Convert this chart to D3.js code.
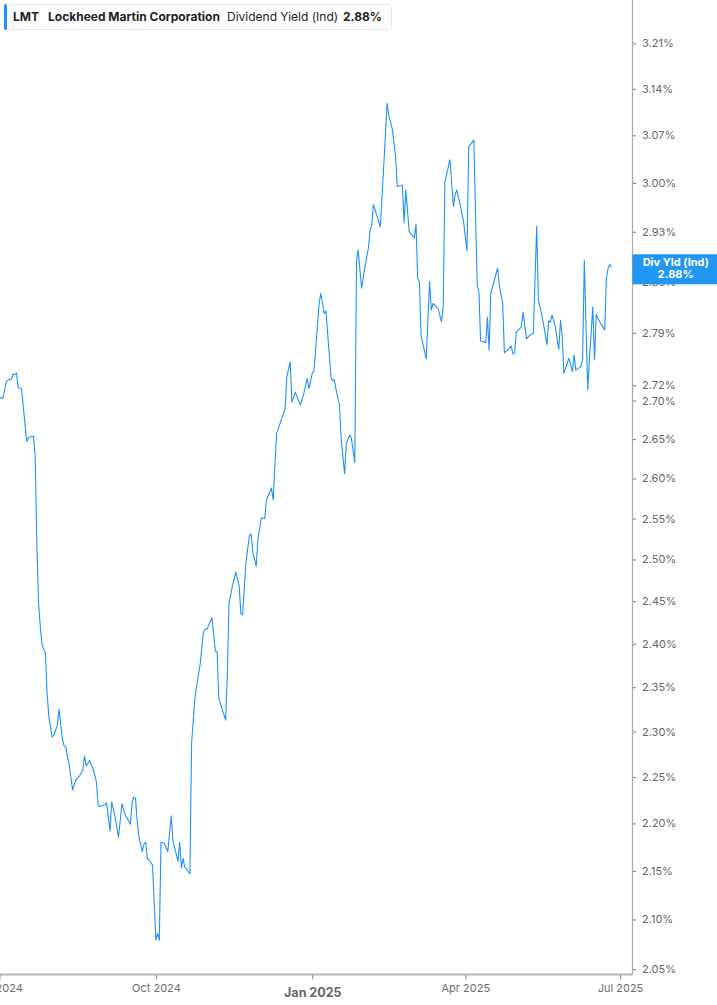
<!DOCTYPE html>
<html>
<head>
<meta charset="utf-8">
<script src="https://cdn.jsdelivr.net/npm/d3@7"></script>
<style>
  html, body { margin: 0; padding: 0; background: #fff; }
  svg { display: block; font-family: Inter, "Noto Sans", sans-serif; }
</style>
</head>
<body>
<svg id="chart" width="717" height="1005"></svg>
<script>
const ticker = "LMT";
const company = "Lockheed Martin Corporation";
const metric = "Dividend Yield (Ind)";
const metricShort = "Div Yld (Ind)";
const lastValueLabel = "2.88%";

const dates = [
"2024-07-01","2024-07-02","2024-07-03","2024-07-05","2024-07-07","2024-07-08","2024-07-09","2024-07-10","2024-07-11","2024-07-12",
"2024-07-14","2024-07-15","2024-07-17","2024-07-18","2024-07-21","2024-07-22","2024-07-23","2024-07-24","2024-07-25","2024-07-26",
"2024-07-28","2024-07-29","2024-07-30","2024-08-01","2024-08-02","2024-08-04","2024-08-05","2024-08-07","2024-08-08","2024-08-09",
"2024-08-10","2024-08-11","2024-08-12","2024-08-13","2024-08-15","2024-08-17","2024-08-19","2024-08-20","2024-08-21","2024-08-23",
"2024-08-25","2024-08-27","2024-08-28","2024-08-29","2024-09-01","2024-09-02","2024-09-04","2024-09-05","2024-09-07","2024-09-09",
"2024-09-11","2024-09-13","2024-09-16","2024-09-17","2024-09-18","2024-09-19","2024-09-20","2024-09-21","2024-09-23","2024-09-24",
"2024-09-25","2024-09-26","2024-09-28","2024-09-29","2024-10-01","2024-10-02","2024-10-03","2024-10-04","2024-10-06","2024-10-08",
"2024-10-10","2024-10-11","2024-10-14","2024-10-15","2024-10-16","2024-10-17","2024-10-18","2024-10-21","2024-10-22","2024-10-24",
"2024-10-27","2024-10-29","2024-10-30","2024-10-31","2024-11-03","2024-11-05","2024-11-06","2024-11-07","2024-11-11","2024-11-12",
"2024-11-13","2024-11-15","2024-11-17","2024-11-19","2024-11-20","2024-11-21","2024-11-23","2024-11-25","2024-11-26","2024-11-27",
"2024-11-29","2024-11-30","2024-12-02","2024-12-04","2024-12-05","2024-12-08","2024-12-09","2024-12-11","2024-12-13","2024-12-16",
"2024-12-17","2024-12-19","2024-12-20","2024-12-22","2024-12-25","2024-12-27","2024-12-29","2024-12-30","2025-01-01","2025-01-02",
"2025-01-05","2025-01-06","2025-01-08","2025-01-09","2025-01-12","2025-01-13","2025-01-14","2025-01-15","2025-01-17","2025-01-18",
"2025-01-20","2025-01-21","2025-01-23","2025-01-24","2025-01-26","2025-01-27","2025-01-28","2025-01-30","2025-02-01","2025-02-03",
"2025-02-04","2025-02-05","2025-02-06","2025-02-08","2025-02-10","2025-02-12","2025-02-14","2025-02-15","2025-02-17","2025-02-19",
"2025-02-20","2025-02-22","2025-02-23","2025-02-24","2025-02-25","2025-02-27","2025-03-02","2025-03-03","2025-03-04","2025-03-05",
"2025-03-06","2025-03-09","2025-03-11","2025-03-12","2025-03-13","2025-03-16","2025-03-18","2025-03-19","2025-03-20","2025-03-23",
"2025-03-25","2025-03-26","2025-03-27","2025-03-29","2025-03-31","2025-04-02","2025-04-03","2025-04-06","2025-04-08","2025-04-09",
"2025-04-10","2025-04-13","2025-04-14","2025-04-15","2025-04-16","2025-04-20","2025-04-21","2025-04-23","2025-04-24","2025-04-28",
"2025-04-29","2025-04-30","2025-05-01","2025-05-04","2025-05-05","2025-05-07","2025-05-09","2025-05-11","2025-05-13","2025-05-14",
"2025-05-16","2025-05-18","2025-05-19","2025-05-20","2025-05-21","2025-05-22","2025-05-24","2025-05-25","2025-05-26","2025-05-27",
"2025-05-28","2025-05-29","2025-06-01","2025-06-03","2025-06-04","2025-06-05","2025-06-08","2025-06-09","2025-06-10","2025-06-12",
"2025-06-13","2025-06-15","2025-06-16","2025-06-17","2025-06-19","2025-06-22","2025-06-23","2025-06-24","2025-06-25","2025-06-26"
];

const yields = [
2.703,2.704,2.703,2.725,2.728,2.728,2.735,2.734,2.736,2.717,
2.715,2.692,2.647,2.652,2.654,2.627,2.515,2.447,2.420,2.399,
2.389,2.343,2.317,2.294,2.296,2.307,2.325,2.292,2.284,2.283,
2.272,2.263,2.250,2.236,2.247,2.251,2.257,2.273,2.262,2.268,
2.259,2.245,2.220,2.218,2.220,2.222,2.192,2.223,2.207,2.185,
2.221,2.209,2.199,2.222,2.228,2.227,2.202,2.186,2.170,2.178,
2.180,2.163,2.159,2.156,2.079,2.086,2.079,2.180,2.179,2.170,
2.208,2.182,2.160,2.180,2.153,2.163,2.154,2.147,2.287,2.339,
2.376,2.414,2.417,2.417,2.430,2.391,2.391,2.337,2.313,2.363,
2.447,2.468,2.485,2.468,2.435,2.434,2.497,2.529,2.531,2.509,
2.492,2.524,2.551,2.550,2.573,2.588,2.573,2.657,2.670,2.689,
2.731,2.751,2.698,2.711,2.694,2.709,2.729,2.716,2.736,2.739,
2.830,2.844,2.816,2.820,2.731,2.726,2.727,2.714,2.694,2.649,
2.606,2.645,2.655,2.651,2.620,2.888,2.904,2.851,2.881,2.907,
2.932,2.940,2.969,2.953,2.937,3.024,3.118,3.100,3.080,3.039,
2.995,2.996,2.997,2.943,2.990,2.930,2.921,2.941,2.865,2.860,
2.786,2.755,2.860,2.821,2.830,2.823,2.805,2.826,3.002,3.034,
2.966,2.983,2.990,2.968,2.944,2.903,3.053,3.063,2.855,2.846,
2.779,2.777,2.811,2.767,2.844,2.879,2.855,2.830,2.763,2.772,
2.762,2.763,2.791,2.798,2.818,2.782,2.787,2.789,2.938,2.835,
2.814,2.789,2.774,2.806,2.805,2.814,2.798,2.781,2.768,2.807,
2.785,2.736,2.756,2.738,2.760,2.740,2.745,2.754,2.890,2.714,
2.754,2.825,2.754,2.815,2.805,2.794,2.865,2.879,2.884,2.880
];

const yTickValues = [3.21, 3.14, 3.07, 3.00, 2.93, 2.86, 2.79, 2.72, 2.70, 2.65, 2.60, 2.55, 2.50, 2.45, 2.40, 2.35, 2.30, 2.25, 2.20, 2.15, 2.10, 2.05];
const xTickDates = ["2024-07-01", "2024-10-01", "2025-01-01", "2025-04-01", "2025-07-01"];
const xTickLabels = ["Jul 2024", "Oct 2024", "Jan 2025", "Apr 2025", "Jul 2025"];
const yearStartLabel = "Jan 2025";

const parse = d3.timeParse("%Y-%m-%d");
const data = dates.map((d, i) => ({ date: parse(d), value: yields[i] }));

const W = 717, H = 1005;
const axisX = 632.5, axisY = 974.5;
const lineColor = "#1e90ff";
const svg = d3.select("#chart");

const x = d3.scaleTime()
  .domain([parse(xTickDates[0]), parse(xTickDates[xTickDates.length - 1])])
  .range([-0.5, 620]);
const y = d3.scaleLog()
  .domain([2.05, 3.21])
  .range([969.2, 43.3]);

// axis lines
svg.append("line").attr("x1", axisX).attr("x2", axisX).attr("y1", 0).attr("y2", axisY)
  .attr("stroke", "#a8a8a8").attr("stroke-width", 1.2);
svg.append("line").attr("x1", 0).attr("x2", axisX).attr("y1", axisY).attr("y2", axisY)
  .attr("stroke", "#b4b4b4").attr("stroke-width", 2);

// line
const line = d3.line().x(d => x(d.date)).y(d => y(d.value));
svg.append("path").datum(data)
  .attr("d", line)
  .attr("fill", "none")
  .attr("stroke", lineColor)
  .attr("stroke-width", 1.1)
  .attr("stroke-linejoin", "round");

// right axis
const yAxis = d3.axisRight(y)
  .tickValues(yTickValues)
  .tickFormat(d => d.toFixed(2) + "%")
  .tickSize(3)
  .tickPadding(6);
const gy = svg.append("g").attr("transform", `translate(${axisX + 0.5},0)`).call(yAxis);
gy.select(".domain").remove();
gy.selectAll(".tick line").attr("stroke", "#777");
gy.selectAll(".tick text").attr("fill", "#666").attr("font-size", 11).attr("font-family", "Inter, sans-serif");

// bottom axis
const xAxis = d3.axisBottom(x)
  .tickValues(xTickDates.map(parse))
  .tickFormat((d, i) => xTickLabels[i])
  .tickSize(5)
  .tickPadding(5);
const gx = svg.append("g").attr("transform", `translate(0,${axisY})`).call(xAxis);
gx.select(".domain").remove();
gx.selectAll(".tick line").attr("stroke", "#888");
gx.selectAll(".tick text")
  .attr("fill", "#6b6b6b")
  .attr("font-size", 11)
  .attr("font-family", "Inter, sans-serif")
  .each(function(d, i) {
    if (xTickLabels[i] === yearStartLabel) {
      d3.select(this).attr("font-weight", "bold").attr("font-size", 12.5).attr("fill", "#666").attr("dy", "1.0em");
    }
  });

// last value label on axis
const lastY = y(yields[yields.length - 1]);
const lbl = svg.append("g");
lbl.append("rect").attr("x", axisX).attr("y", lastY - 13).attr("width", W - axisX).attr("height", 30)
  .attr("fill", "#2196f3");
lbl.append("text").attr("x", (axisX + W) / 2 + 1).attr("y", lastY - 1.5)
  .attr("text-anchor", "middle").attr("fill", "#fff").attr("font-weight", "bold").attr("font-size", 11)
  .text(metricShort);
lbl.append("text").attr("x", (axisX + W) / 2 + 1).attr("y", lastY + 11)
  .attr("text-anchor", "middle").attr("fill", "#fff").attr("font-weight", "bold").attr("font-size", 11)
  .text(lastValueLabel);

// legend
const lg = svg.append("g");
lg.append("rect").attr("x", 4.5).attr("y", 4.5).attr("width", 387).attr("height", 25).attr("rx", 3)
  .attr("fill", "#fff").attr("stroke", "#e6e6e6");
lg.append("rect").attr("x", 4).attr("y", 4).attr("width", 3).attr("height", 26).attr("rx", 1.5).attr("fill", lineColor);
const lt = lg.append("text").attr("y", 21).attr("font-size", 12).attr("fill", "#222");
lt.append("tspan").attr("x", 13).attr("font-weight", "bold").text(ticker);
lt.append("tspan").attr("x", 48).attr("font-weight", "bold").text(company);
lt.append("tspan").attr("x", 227).attr("font-weight", "normal").text(metric);
lt.append("tspan").attr("x", 343).attr("font-weight", "bold").text(lastValueLabel);
</script>
</body>
</html>
